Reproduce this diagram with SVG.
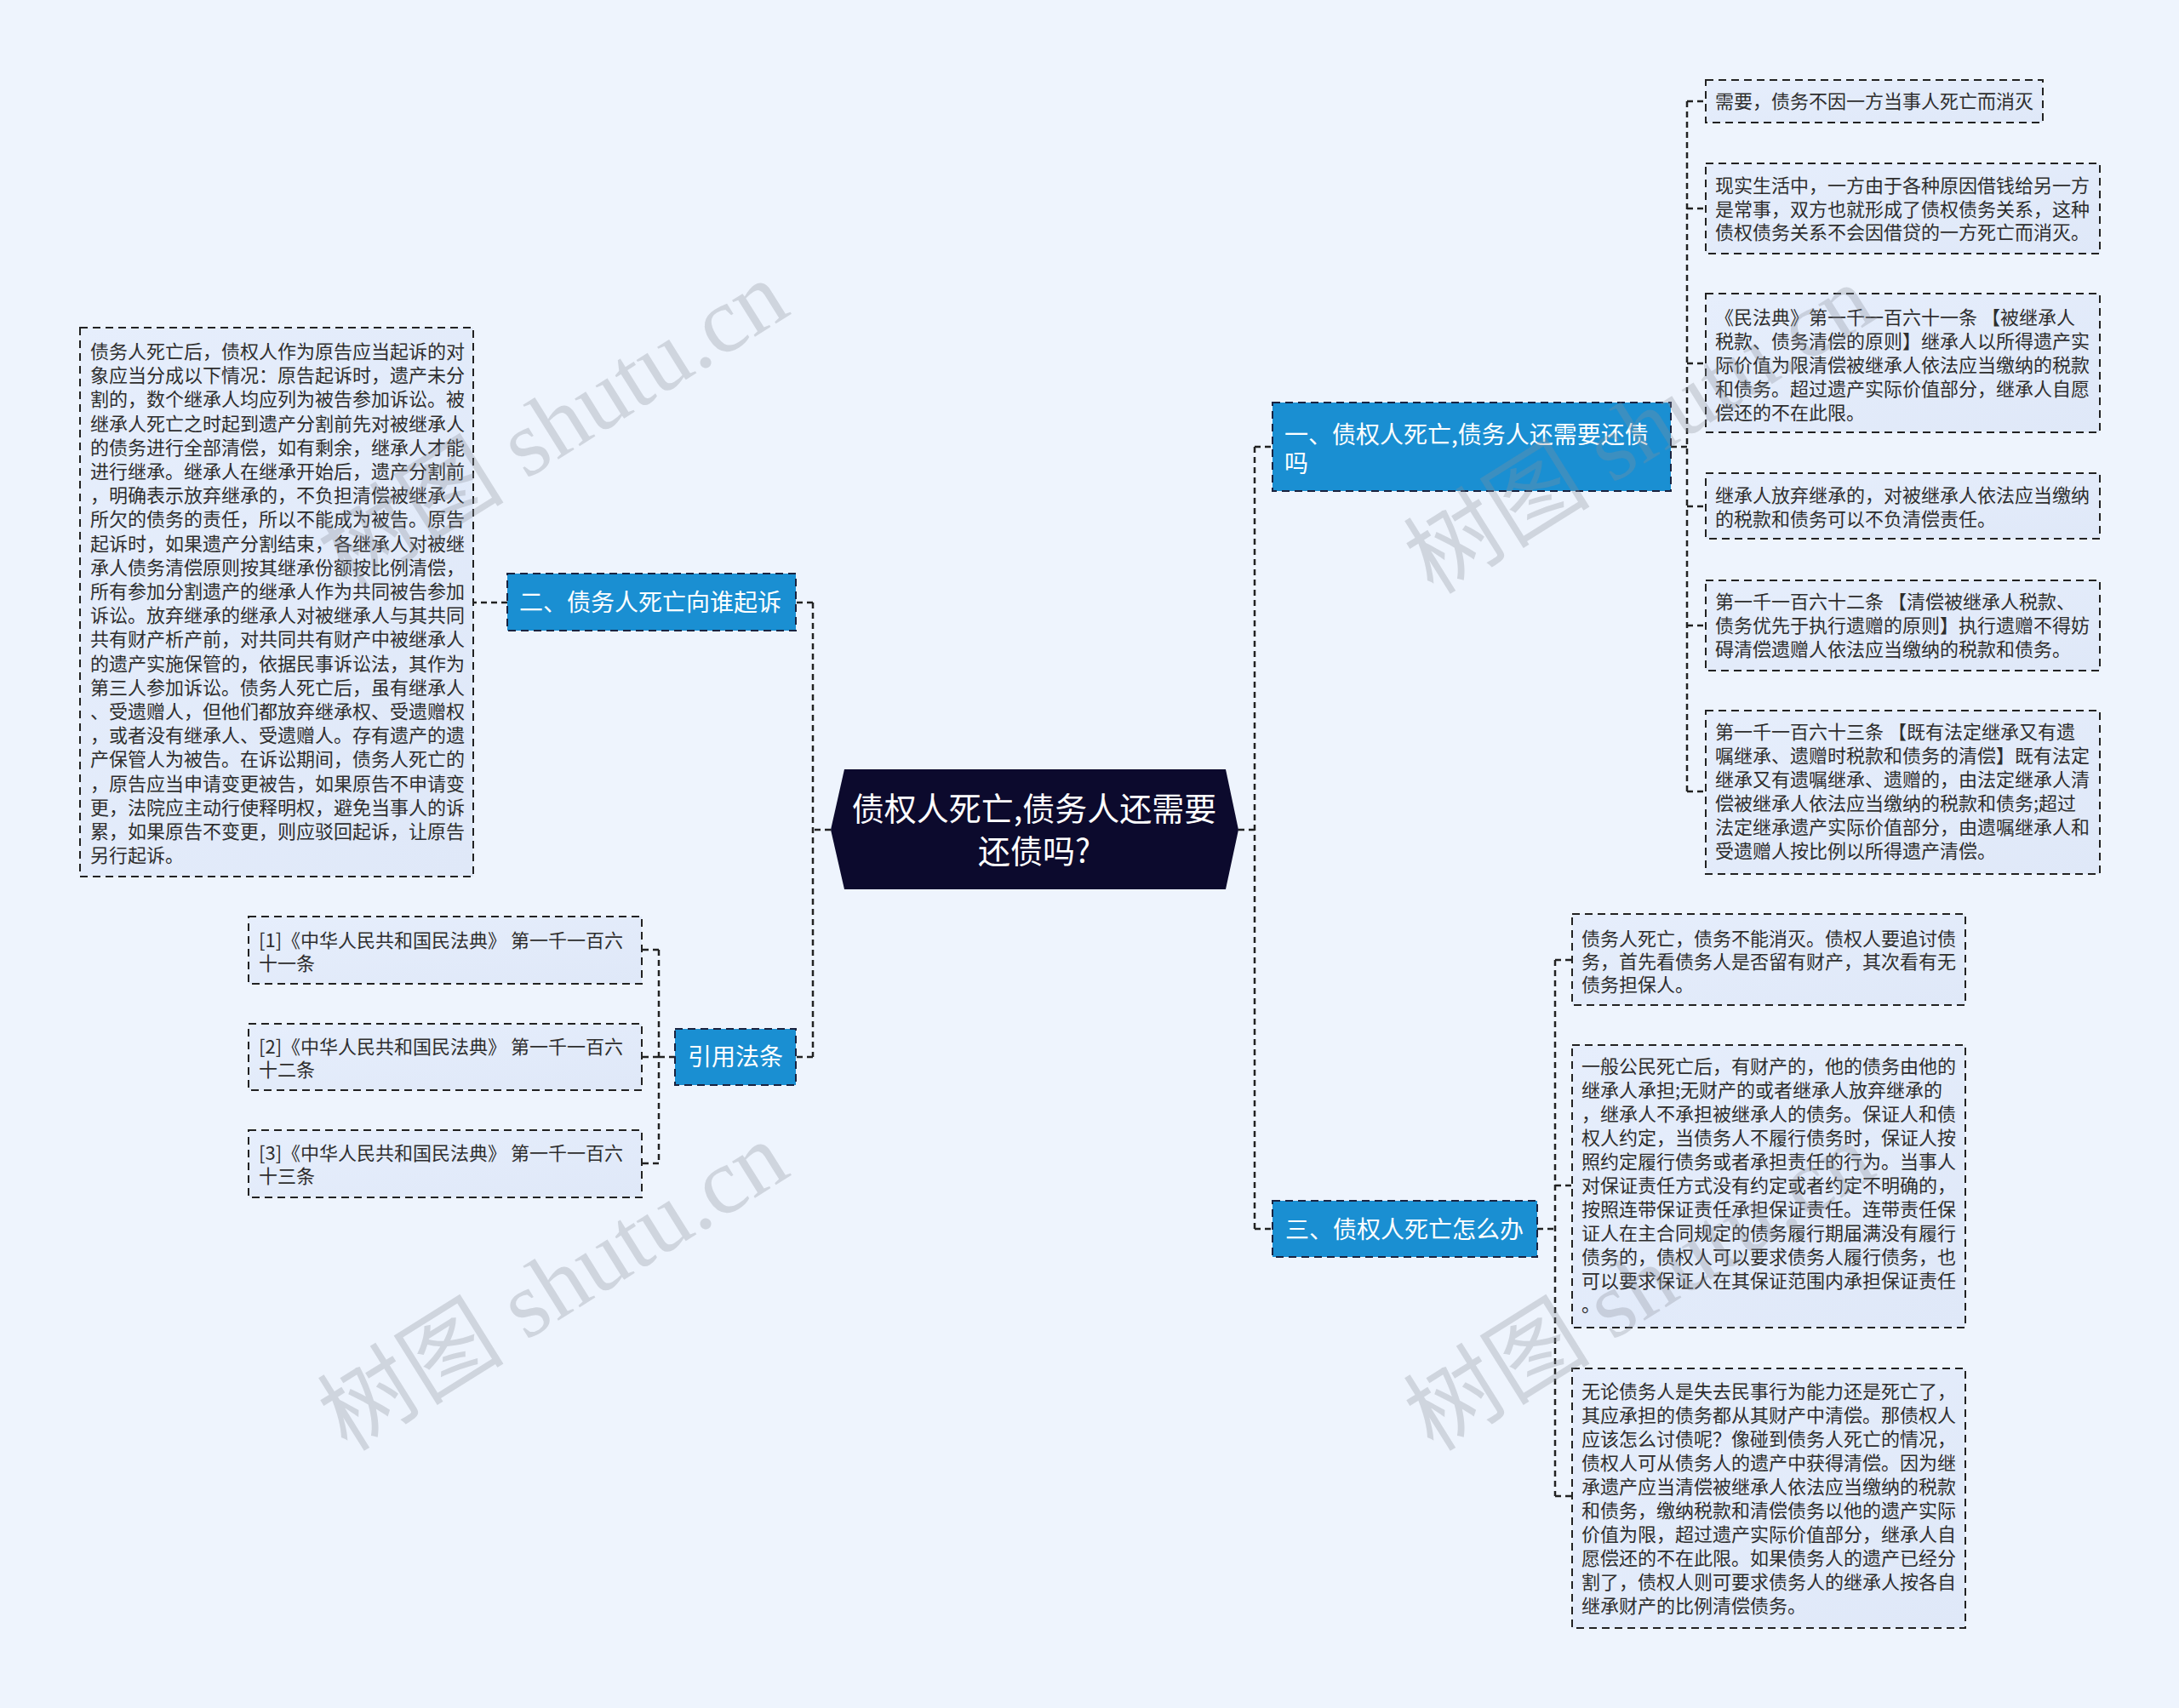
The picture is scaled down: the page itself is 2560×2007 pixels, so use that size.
<svg xmlns="http://www.w3.org/2000/svg" width="2560" height="2007" viewBox="0 0 2560 2007">
<defs>
<linearGradient id="leafg" x1="0" y1="0" x2="1" y2="1">
<stop offset="0" stop-color="#e6eefc"/>
<stop offset="1" stop-color="#dfe8f8"/>
</linearGradient>
<style>
.bg{fill:#eef4fd}
.leaf{fill:url(#leafg);stroke:#222;stroke-width:2;stroke-dasharray:9 6}
.topic{fill:#1a8fd2;stroke:#1a2340;stroke-width:2;stroke-dasharray:9 6}
.lt{font-family:"Noto Sans CJK SC","Noto Sans",sans-serif;font-size:22px;fill:#2e2e2e}
.tt{font-family:"Noto Sans CJK SC","Noto Sans",sans-serif;font-size:28px;fill:#fff}
.ct{font-family:"Noto Sans CJK SC","Noto Sans",sans-serif;font-size:38px;fill:#fff}
.conn{fill:none;stroke:#222;stroke-width:2.5;stroke-dasharray:7 5}
.wm{font-family:"Liberation Serif","Noto Sans CJK SC",serif;font-size:110px;fill:#8a8f99;opacity:0.3}
</style>
</defs>
<rect class="bg" x="0" y="0" width="2560" height="2007"/>

<g id="connectors">
<path class="conn" d="M976,975 H955 M955,708 V1242 M955,708 H935 M955,1242 H935"/>
<path class="conn" d="M596,708 H556"/>
<path class="conn" d="M793,1242 H774 M774,1116 V1367 M774,1116 H754 M774,1242 H754 M774,1367 H754"/>
<path class="conn" d="M1455,975 H1474 M1474,525 V1444 M1474,525 H1495 M1474,1444 H1495"/>
<path class="conn" d="M1963,525 H1982 M1982,119 V930 M1982,119 H2004 M1982,245 H2004 M1982,427 H2004 M1982,595 H2004 M1982,735 H2004 M1982,930 H2004"/>
<path class="conn" d="M1806,1444 H1827 M1827,1128 V1758 M1827,1128 H1847 M1827,1393 H1847 M1827,1758 H1847"/>
</g>

<g id="root">
<polygon points="992,904 1440,904 1455,975 1440,1045 992,1045 976,975" fill="#0c0a2d"/>
<text class="ct" text-anchor="middle"><tspan x="1215" y="964">债权人死亡,债务人还需要</tspan><tspan x="1215" y="1014">还债吗?</tspan></text>
</g>

<g id="topic1">
<rect class="topic" x="1495" y="473" width="468" height="104"/>
<text class="tt"><tspan x="1509" y="521">一、债权人死亡,债务人还需要还债</tspan><tspan x="1509" y="555">吗</tspan></text>
</g>

<g id="topic2">
<rect class="topic" x="596" y="674" width="339" height="67"/>
<text class="tt" x="610" y="718">二、债务人死亡向谁起诉</text>
</g>

<g id="topic3">
<rect class="topic" x="1495" y="1411" width="311" height="66"/>
<text class="tt" x="1510" y="1455">三、债权人死亡怎么办</text>
</g>

<g id="topic4">
<rect class="topic" x="793" y="1209" width="142" height="66"/>
<text class="tt" x="864" y="1252" text-anchor="middle">引用法条</text>
</g>

<g id="leaf-left">
<rect class="leaf" x="94" y="385" width="462" height="645"/>
<text class="lt">
<tspan x="106" y="421">债务人死亡后，债权人作为原告应当起诉的对</tspan>
<tspan x="106" dy="28.2">象应当分成以下情况：原告起诉时，遗产未分</tspan>
<tspan x="106" dy="28.2">割的，数个继承人均应列为被告参加诉讼。被</tspan>
<tspan x="106" dy="28.2">继承人死亡之时起到遗产分割前先对被继承人</tspan>
<tspan x="106" dy="28.2">的债务进行全部清偿，如有剩余，继承人才能</tspan>
<tspan x="106" dy="28.2">进行继承。继承人在继承开始后，遗产分割前</tspan>
<tspan x="106" dy="28.2">，明确表示放弃继承的，不负担清偿被继承人</tspan>
<tspan x="106" dy="28.2">所欠的债务的责任，所以不能成为被告。原告</tspan>
<tspan x="106" dy="28.2">起诉时，如果遗产分割结束，各继承人对被继</tspan>
<tspan x="106" dy="28.2">承人债务清偿原则按其继承份额按比例清偿，</tspan>
<tspan x="106" dy="28.2">所有参加分割遗产的继承人作为共同被告参加</tspan>
<tspan x="106" dy="28.2">诉讼。放弃继承的继承人对被继承人与其共同</tspan>
<tspan x="106" dy="28.2">共有财产析产前，对共同共有财产中被继承人</tspan>
<tspan x="106" dy="28.2">的遗产实施保管的，依据民事诉讼法，其作为</tspan>
<tspan x="106" dy="28.2">第三人参加诉讼。债务人死亡后，虽有继承人</tspan>
<tspan x="106" dy="28.2">、受遗赠人，但他们都放弃继承权、受遗赠权</tspan>
<tspan x="106" dy="28.2">，或者没有继承人、受遗赠人。存有遗产的遗</tspan>
<tspan x="106" dy="28.2">产保管人为被告。在诉讼期间，债务人死亡的</tspan>
<tspan x="106" dy="28.2">，原告应当申请变更被告，如果原告不申请变</tspan>
<tspan x="106" dy="28.2">更，法院应主动行使释明权，避免当事人的诉</tspan>
<tspan x="106" dy="28.2">累，如果原告不变更，则应驳回起诉，让原告</tspan>
<tspan x="106" dy="28.2">另行起诉。</tspan>
</text>
</g>

<g id="ref1">
<rect class="leaf" x="292" y="1077" width="462" height="79"/>
<text class="lt"><tspan x="304" y="1113">[1]《中华人民共和国民法典》 第一千一百六</tspan><tspan x="304" y="1140">十一条</tspan></text>
</g>
<g id="ref2">
<rect class="leaf" x="292" y="1203" width="462" height="78"/>
<text class="lt"><tspan x="304" y="1238">[2]《中华人民共和国民法典》 第一千一百六</tspan><tspan x="304" y="1265">十二条</tspan></text>
</g>
<g id="ref3">
<rect class="leaf" x="292" y="1328" width="462" height="79"/>
<text class="lt"><tspan x="304" y="1363">[3]《中华人民共和国民法典》 第一千一百六</tspan><tspan x="304" y="1390">十三条</tspan></text>
</g>

<g id="leaf-a">
<rect class="leaf" x="2004" y="94" width="396" height="50"/>
<text class="lt" x="2015" y="127">需要，债务不因一方当事人死亡而消灭</text>
</g>
<g id="leaf-b">
<rect class="leaf" x="2004" y="192" width="463" height="106"/>
<text class="lt"><tspan x="2015" y="226">现实生活中，一方由于各种原因借钱给另一方</tspan><tspan x="2015" dy="27.5">是常事，双方也就形成了债权债务关系，这种</tspan><tspan x="2015" dy="27.5">债权债务关系不会因借贷的一方死亡而消灭。</tspan></text>
</g>
<g id="leaf-c">
<rect class="leaf" x="2004" y="345" width="463" height="163"/>
<text class="lt"><tspan x="2015" y="381">《民法典》第一千一百六十一条 【被继承人</tspan><tspan x="2015" dy="28">税款、债务清偿的原则】继承人以所得遗产实</tspan><tspan x="2015" dy="28">际价值为限清偿被继承人依法应当缴纳的税款</tspan><tspan x="2015" dy="28">和债务。超过遗产实际价值部分，继承人自愿</tspan><tspan x="2015" dy="28">偿还的不在此限。</tspan></text>
</g>
<g id="leaf-d">
<rect class="leaf" x="2004" y="556" width="463" height="77"/>
<text class="lt"><tspan x="2015" y="590">继承人放弃继承的，对被继承人依法应当缴纳</tspan><tspan x="2015" dy="28">的税款和债务可以不负清偿责任。</tspan></text>
</g>
<g id="leaf-e">
<rect class="leaf" x="2004" y="682" width="463" height="106"/>
<text class="lt"><tspan x="2015" y="715">第一千一百六十二条 【清偿被继承人税款、</tspan><tspan x="2015" dy="28">债务优先于执行遗赠的原则】执行遗赠不得妨</tspan><tspan x="2015" dy="28">碍清偿遗赠人依法应当缴纳的税款和债务。</tspan></text>
</g>
<g id="leaf-f">
<rect class="leaf" x="2004" y="835" width="463" height="192"/>
<text class="lt"><tspan x="2015" y="868">第一千一百六十三条 【既有法定继承又有遗</tspan><tspan x="2015" dy="28">嘱继承、遗赠时税款和债务的清偿】既有法定</tspan><tspan x="2015" dy="28">继承又有遗嘱继承、遗赠的，由法定继承人清</tspan><tspan x="2015" dy="28">偿被继承人依法应当缴纳的税款和债务;超过</tspan><tspan x="2015" dy="28">法定继承遗产实际价值部分，由遗嘱继承人和</tspan><tspan x="2015" dy="28">受遗赠人按比例以所得遗产清偿。</tspan></text>
</g>

<g id="leaf-g">
<rect class="leaf" x="1847" y="1074" width="462" height="107"/>
<text class="lt"><tspan x="1858" y="1111">债务人死亡，债务不能消灭。债权人要追讨债</tspan><tspan x="1858" dy="27">务，首先看债务人是否留有财产，其次看有无</tspan><tspan x="1858" dy="27">债务担保人。</tspan></text>
</g>
<g id="leaf-h">
<rect class="leaf" x="1847" y="1228" width="462" height="332"/>
<text class="lt">
<tspan x="1858" y="1261">一般公民死亡后，有财产的，他的债务由他的</tspan>
<tspan x="1858" dy="28">继承人承担;无财产的或者继承人放弃继承的</tspan>
<tspan x="1858" dy="28">，继承人不承担被继承人的债务。保证人和债</tspan>
<tspan x="1858" dy="28">权人约定，当债务人不履行债务时，保证人按</tspan>
<tspan x="1858" dy="28">照约定履行债务或者承担责任的行为。当事人</tspan>
<tspan x="1858" dy="28">对保证责任方式没有约定或者约定不明确的，</tspan>
<tspan x="1858" dy="28">按照连带保证责任承担保证责任。连带责任保</tspan>
<tspan x="1858" dy="28">证人在主合同规定的债务履行期届满没有履行</tspan>
<tspan x="1858" dy="28">债务的，债权人可以要求债务人履行债务，也</tspan>
<tspan x="1858" dy="28">可以要求保证人在其保证范围内承担保证责任</tspan>
<tspan x="1858" dy="28">。</tspan>
</text>
</g>
<g id="leaf-i">
<rect class="leaf" x="1847" y="1608" width="462" height="305"/>
<text class="lt">
<tspan x="1858" y="1643">无论债务人是失去民事行为能力还是死亡了，</tspan>
<tspan x="1858" dy="28">其应承担的债务都从其财产中清偿。那债权人</tspan>
<tspan x="1858" dy="28">应该怎么讨债呢？像碰到债务人死亡的情况，</tspan>
<tspan x="1858" dy="28">债权人可从债务人的遗产中获得清偿。因为继</tspan>
<tspan x="1858" dy="28">承遗产应当清偿被继承人依法应当缴纳的税款</tspan>
<tspan x="1858" dy="28">和债务，缴纳税款和清偿债务以他的遗产实际</tspan>
<tspan x="1858" dy="28">价值为限，超过遗产实际价值部分，继承人自</tspan>
<tspan x="1858" dy="28">愿偿还的不在此限。如果债务人的遗产已经分</tspan>
<tspan x="1858" dy="28">割了，债权人则可要求债务人的继承人按各自</tspan>
<tspan x="1858" dy="28">继承财产的比例清偿债务。</tspan>
</text>
</g>

<g id="watermarks">
<text class="wm" transform="translate(650,500) rotate(-32)" text-anchor="middle" dominant-baseline="central">树图 shutu.cn</text>
<text class="wm" transform="translate(650,1512) rotate(-32)" text-anchor="middle" dominant-baseline="central">树图 shutu.cn</text>
<text class="wm" transform="translate(1926,505) rotate(-32)" text-anchor="middle" dominant-baseline="central">树图 shutu.cn</text>
<text class="wm" transform="translate(1926,1512) rotate(-32)" text-anchor="middle" dominant-baseline="central">树图 shutu.cn</text>
</g>
</svg>
